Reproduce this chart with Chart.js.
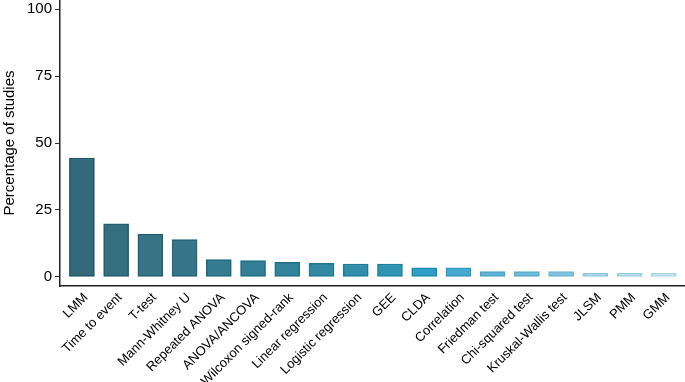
<!DOCTYPE html>
<html>
<head>
<meta charset="utf-8">
<script src="https://cdn.jsdelivr.net/npm/chart.js@4/dist/chart.umd.min.js"></script>
<style>
html,body{margin:0;padding:0;background:#fff;}
#wrap{width:685px;height:382px;position:relative;}
</style>
</head>
<body>
<div id="wrap"><canvas id="c" width="685" height="382"></canvas></div>
<script>
const categories = ["LMM","Time to event","T-test","Mann-Whitney U","Repeated ANOVA","ANOVA/ANCOVA","Wilcoxon signed-rank","Linear regression","Logistic regression","GEE","CLDA","Correlation","Friedman test","Chi-squared test","Kruskal-Wallis test","JLSM","PMM","GMM"];
const percentages = [44.4, 19.8, 16.0, 13.9, 6.5, 6.1, 5.4, 5.1, 4.8, 4.8, 3.4, 3.4, 2.0, 2.0, 2.0, 1.3, 1.3, 1.3];
const yTicks = [0, 25, 50, 75, 100];
const fillColors = ["#336a7b","#346f80","#357385","#35768a","#357b90","#347f95","#33849b","#3389a2","#328eaa","#3194b3","#2f9fc8","#46a9d0","#5fb4d6","#6ebbd9","#7fc3de","#95cee5","#a5d6e9","#b7dfee"];
const borderColors = ["#1f5767","#205c6d","#216072","#216477","#21687d","#206c83","#1f7189","#1f7690","#1e7b98","#1d82a1","#1b8cb4","#3696bd","#4fa3c7","#5eaccc","#6fb5d2","#88c3da","#98cbe0","#a8d5e6"];

const ctx = document.getElementById('c').getContext('2d');
new Chart(ctx, {
  type: 'bar',
  data: {
    datasets: [{
      data: percentages.map((v, i) => ({x: i, y: v})),
      backgroundColor: fillColors,
      borderColor: borderColors,
      borderWidth: 1.5,
      borderSkipped: false,
      barThickness: 25
    }]
  },
  options: {
    responsive: false,
    animation: false,
    devicePixelRatio: 1,
    layout: {padding: {top: 0, right: 0, left: 0, bottom: 0}},
    plugins: {legend: {display: false}, tooltip: {enabled: false}},
    scales: {
      x: {
        type: 'linear',
        offset: false,
        min: -0.64,
        max: 17.62,
        afterBuildTicks: (s) => { s.ticks = categories.map((_, i) => ({value: i})); },
        afterFit: (s) => { s.height = 96; s.paddingLeft = 0; s.paddingRight = 0; s.paddingTop = 0; s.paddingBottom = 0; },
        ticks: {
          autoSkip: false,
          maxRotation: 45,
          minRotation: 45,
          padding: 4,
          labelOffset: 4,
          color: '#000',
          font: {family: 'Liberation Sans', size: 13},
          callback: (v, i) => categories[i]
        },
        grid: {display: false, drawOnChartArea: false, drawTicks: false},
        border: {display: true, color: '#222', width: 1.5}
      },
      y: {
        min: -3.4,
        max: 103.4,
        afterBuildTicks: (s) => { s.ticks = yTicks.map(v => ({value: v})); },
        afterFit: (s) => { s.width = 60; s.paddingTop = 0; s.paddingBottom = 0; s.paddingLeft = 0; s.paddingRight = 0; },
        ticks: {
          padding: 3,
          color: '#000',
          font: {family: 'Liberation Sans', size: 15}
        },
        title: {
          display: true,
          text: 'Percentage of studies',
          color: '#000',
          font: {family: 'Liberation Sans', size: 15},
          padding: {top: 1, bottom: 0}
        },
        grid: {display: true, drawOnChartArea: false, drawTicks: true, tickLength: 5, color: '#333', lineWidth: 1},
        border: {display: true, color: '#222', width: 1.5}
      }
    }
  }
});
</script>
</body>
</html>
